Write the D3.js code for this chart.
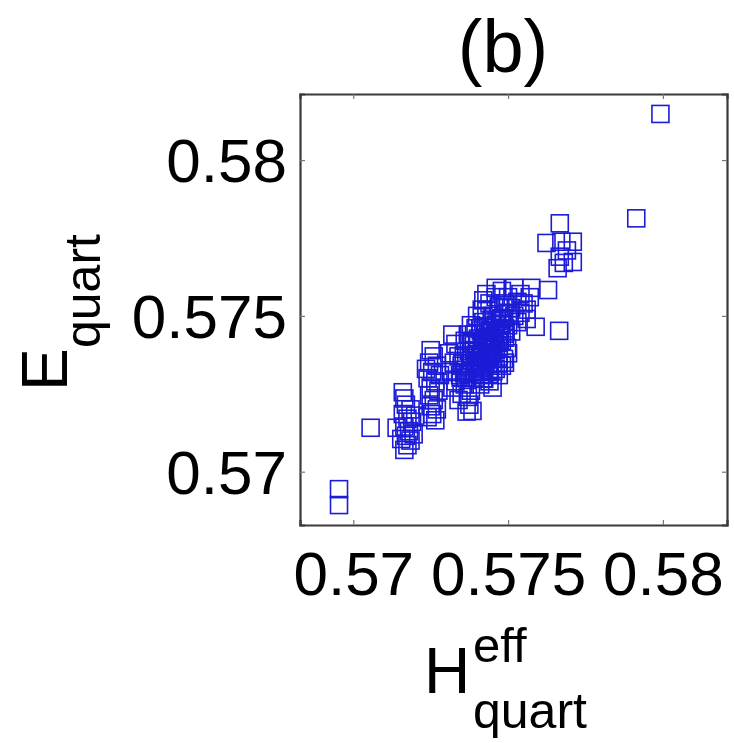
<!DOCTYPE html>
<html><head><meta charset="utf-8">
<script src="https://cdn.jsdelivr.net/npm/d3@7"></script>
<style>body{margin:0;background:#fff;} text{font-family:"Liberation Sans",Arial,sans-serif;fill:#000;}</style>
</head><body>
<svg id="c" width="734" height="743"></svg>
<script>
const title = "(b)";
const xTicks = [0.57, 0.575, 0.58];
const yTicks = [0.57, 0.575, 0.58];
const xTickLabels = ["0.57", "0.575", "0.58"];
const yTickLabels = ["0.57", "0.575", "0.58"];
const xDomain = [0.56828, 0.58207];
const yDomain = [0.56829, 0.58212];

// H_eff_quart values
const hEff = [
  0.56954,0.56954,0.57056,0.57140,
  0.57160,0.57165,0.57170,0.57185,0.57160,0.57175,0.57190,0.57165,0.57180,0.57170,0.57185,0.57175,0.57165,0.57195,0.57200,0.57155,
  0.57250,0.57260,0.57245,0.57270,0.57255,0.57240,0.57265,0.57250,0.57275,0.57245,0.57260,0.57250,0.57270,0.57255,0.57265,0.57240,0.57280,0.57235,
  0.57320,0.57330,0.57310,0.57340,0.57325,0.57350,0.57315,0.57345,0.57330,0.57360,0.57320,0.57350,0.57370,0.57340,0.57375,0.57385,0.57380,0.57365,0.57390,0.57366,
  0.57400,0.57420,0.57410,0.57440,0.57430,0.57400,0.57420,0.57450,0.57390,0.57410,0.57440,0.57460,0.57430,0.57400,0.57420,0.57450,0.57470,0.57440,0.57410,0.57460,
  0.57480,0.57470,0.57490,0.57460,0.57480,0.57500,0.57450,0.57430,0.57470,0.57490,0.57440,0.57460,0.57420,0.57380,0.57370,0.57360,0.57390,0.57380,0.57420,0.57440,
  0.57470,0.57490,0.57500,0.57480,0.57450,0.57410,0.57395,0.57415,0.57441,
  0.57430,0.57460,0.57480,0.57500,0.57520,0.57540,0.57530,0.57550,0.57570,0.57575,0.57510,0.57520,0.57540,0.57560,0.57530,0.57500,0.57510,0.57490,0.57560,
  0.57589,0.57665,0.57629,
  0.57667,0.57624,0.57672,0.57709,0.57667,0.57709,0.57660,0.57690,0.57680,
  0.57914,0.57992,
  0.57347,0.57358,0.57362,0.57377,0.57383,0.57398,0.57402,0.57418,0.57423,0.57437,0.57442,0.57458,0.57463,0.57477,
  0.57372,0.57378,0.57393,0.57398,0.57412,0.57417,0.57433,0.57438,0.57452,0.57457,0.57472,0.57478,0.57487,
  0.57393,0.57408,0.57413,0.57427,0.57432,0.57447,0.57453,0.57468,0.57473,0.57488,0.57492,
  0.57352,0.57357,0.57373,0.57382,0.57403,0.57412,0.57428,0.57447,
  0.57423,0.57438,0.57452,0.57468,0.57487,0.57497
];
// E_quart values
const eQuart = [
  0.56944,0.56893,0.57141,0.57141,
  0.57255,0.57235,0.57215,0.57200,0.57185,0.57170,0.57160,0.57145,0.57130,0.57115,0.57100,0.57085,0.57070,0.57120,0.57180,0.57105,
  0.57390,0.57370,0.57350,0.57340,0.57320,0.57300,0.57290,0.57270,0.57260,0.57245,0.57230,0.57210,0.57200,0.57185,0.57165,0.57175,0.57310,0.57330,
  0.57440,0.57410,0.57380,0.57370,0.57350,0.57340,0.57320,0.57310,0.57290,0.57280,0.57270,0.57250,0.57240,0.57230,0.57215,0.57195,0.57260,0.57300,0.57320,0.57193,
  0.57500,0.57480,0.57460,0.57450,0.57430,0.57420,0.57400,0.57410,0.57390,0.57370,0.57380,0.57390,0.57360,0.57350,0.57340,0.57350,0.57370,0.57320,0.57310,0.57330,
  0.57420,0.57440,0.57460,0.57470,0.57490,0.57510,0.57500,0.57520,0.57530,0.57540,0.57540,0.57560,0.57550,0.57470,0.57440,0.57420,0.57440,0.57410,0.57300,0.57290,
  0.57310,0.57350,0.57380,0.57340,0.57270,0.57280,0.57460,0.57520,0.57326,
  0.57570,0.57590,0.57580,0.57560,0.57590,0.57570,0.57545,0.57540,0.57560,0.57590,0.57525,0.57500,0.57510,0.57520,0.57480,0.57470,0.57450,0.57430,0.57490,
  0.57465,0.57452,0.57583,
  0.57797,0.57734,0.57738,0.57738,0.57690,0.57673,0.57653,0.57710,0.57670,
  0.57813,0.58148,
  0.57302,0.57318,0.57327,0.57348,0.57357,0.57378,0.57387,0.57402,0.57423,0.57432,0.57453,0.57462,0.57483,0.57492,
  0.57313,0.57322,0.57343,0.57352,0.57373,0.57382,0.57397,0.57418,0.57427,0.57448,0.57457,0.57472,0.57493,
  0.57302,0.57323,0.57332,0.57353,0.57362,0.57383,0.57392,0.57413,0.57422,0.57443,0.57452,
  0.57347,0.57373,0.57387,0.57413,0.57427,0.57453,0.57467,0.57488,
  0.57298,0.57313,0.57322,0.57347,0.57362,0.57397
];

const svg = d3.select("#c");
const L = 300, R = 727, T = 94, B = 525;
const x = d3.scaleLinear().domain(xDomain).range([L, R]);
const y = d3.scaleLinear().domain(yDomain).range([B, T]);

svg.append("rect").attr("x", L).attr("y", T).attr("width", R - L).attr("height", B - T).attr("fill", "#fff");

// points
const pts = hEff.map((h, i) => ({h, e: eQuart[i]}));
const s = 17;
svg.append("g").selectAll("rect").data(pts).join("rect")
  .attr("x", d => x(d.h) - s / 2).attr("y", d => y(d.e) - s / 2)
  .attr("width", s).attr("height", s)
  .attr("fill", "none").attr("stroke", "#1c1cd6").attr("stroke-width", 1.6);

// axes (ticks inward)
const fmtX = (d, i) => xTickLabels[i];
const fmtY = (d, i) => yTickLabels[i];
const axB = svg.append("g").attr("transform", `translate(0,${B})`)
  .call(d3.axisBottom(x).tickValues(xTicks).tickSize(-5).tickFormat(fmtX));
const axT = svg.append("g").attr("transform", `translate(0,${T})`)
  .call(d3.axisTop(x).tickValues(xTicks).tickSize(-5).tickFormat(""));
const axL = svg.append("g").attr("transform", `translate(${L},0)`)
  .call(d3.axisLeft(y).tickValues(yTicks).tickSize(-5).tickFormat(fmtY));
const axR = svg.append("g").attr("transform", `translate(${R},0)`)
  .call(d3.axisRight(y).tickValues(yTicks).tickSize(-5).tickFormat(""));
[axB, axT, axL, axR].forEach(a => {
  a.select(".domain").attr("stroke", "#3a3a3a").attr("stroke-width", 2.2);
  a.selectAll(".tick line").attr("stroke", "#777").attr("stroke-width", 1.2);
});
axB.selectAll(".tick text").attr("font-size", 62).attr("font-family", "Liberation Sans, Arial, sans-serif")
  .attr("fill", "#000").attr("y", 70).attr("dy", 0);
axL.selectAll(".tick text").attr("font-size", 62).attr("font-family", "Liberation Sans, Arial, sans-serif")
  .attr("fill", "#000").attr("x", -13).attr("dy", "0.35em");

// title
svg.append("text").attr("x", 503).attr("y", 72).attr("text-anchor", "middle")
  .attr("font-size", 74).text(title);

// x label: H^eff_quart
svg.append("text").attr("x", 424).attr("y", 693).attr("font-size", 64).text("H");
svg.append("text").attr("x", 473).attr("y", 662).attr("font-size", 49).text("eff");
svg.append("text").attr("x", 473).attr("y", 728).attr("font-size", 50).text("quart");

// y label: E_quart (rotated)
svg.append("text").attr("transform", "translate(67,391) rotate(-90)").attr("font-size", 64).text("E");
svg.append("text").attr("transform", "translate(100,348) rotate(-90)").attr("font-size", 50).text("quart");
</script>
</body></html>
